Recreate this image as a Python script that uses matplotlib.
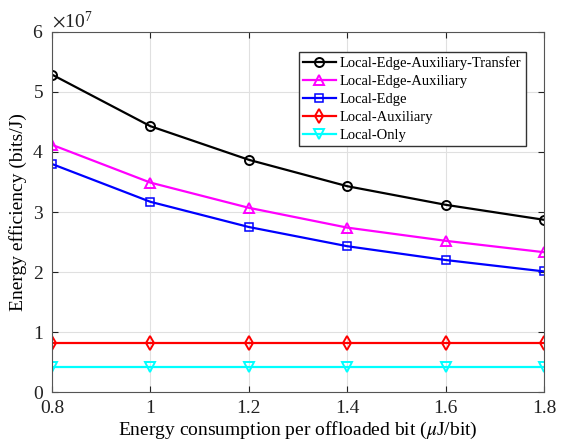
import numpy as np
import matplotlib.pyplot as plt
from matplotlib.ticker import ScalarFormatter

plt.rcParams['font.family'] = ['Liberation Serif', 'DejaVu Serif']
plt.rcParams['mathtext.fontset'] = 'stix'

x = [0.8, 1.0, 1.2, 1.4, 1.6, 1.8]
leat = [5.29e7, 4.43e7, 3.87e7, 3.43e7, 3.12e7, 2.87e7]   # Local-Edge-Auxiliary-Transfer
lea = [4.12e7, 3.49e7, 3.07e7, 2.74e7, 2.52e7, 2.33e7]    # Local-Edge-Auxiliary
le = [3.80e7, 3.17e7, 2.75e7, 2.43e7, 2.20e7, 2.01e7]     # Local-Edge
la = [0.81e7] * 6                                         # Local-Auxiliary
lo = [0.42e7] * 6                                         # Local-Only

fig = plt.figure(figsize=(5.65, 4.44), dpi=100)
ax = fig.add_axes([0.092, 0.117, 0.871, 0.811])

ax.plot(x, leat, color='k', marker='o', mfc='none', mew=1.4, ms=6.5, lw=1.6, label='Local-Edge-Auxiliary-Transfer')
ax.plot(x, lea, color='magenta', marker='^', mfc='none', mew=1.4, ms=7, lw=1.6, label='Local-Edge-Auxiliary')
ax.plot(x, le, color='blue', marker='s', mfc='none', mew=1.1, ms=5.5, lw=1.6, label='Local-Edge')
ax.plot(x, la, color='red', marker='d', mfc='none', mew=1.4, ms=7, lw=1.6, label='Local-Auxiliary')
ax.plot(x, lo, color='cyan', marker='v', mfc='none', mew=1.4, ms=7, lw=1.6, label='Local-Only')

ax.set_xlim(0.8, 1.8)
ax.set_ylim(0, 6e7)
ax.set_xticks([0.8, 1.0, 1.2, 1.4, 1.6, 1.8])
ax.set_xticklabels(['0.8', '1', '1.2', '1.4', '1.6', '1.8'])
fmt = ScalarFormatter(useMathText=True)
fmt.set_powerlimits((0, 0))
ax.yaxis.set_major_formatter(fmt)
ax.yaxis.get_offset_text().set_fontsize(14)

ax.grid(True, color='#e0e0e0', lw=0.8)
ax.set_axisbelow(True)
for s in ax.spines.values():
    s.set_color('#555555')
    s.set_linewidth(0.8)
ax.tick_params(direction='in', top=True, right=True, labelsize=14, colors='#222222', length=4, pad=6)

ax.set_xlabel(r'Energy consumption per offloaded bit ($\mu$J/bit)', fontsize=14, labelpad=2)
ax.set_ylabel('Energy efficiency (bits/J)', fontsize=14)

ax.legend(loc='upper right', bbox_to_anchor=(0.963, 0.944), fontsize=10.5, frameon=True, fancybox=False,
          edgecolor='#333333', framealpha=1, borderpad=0.3, labelspacing=0.32, handlelength=2.2,
          handletextpad=0.3, borderaxespad=0)

fig.savefig('out.png', dpi=100)
